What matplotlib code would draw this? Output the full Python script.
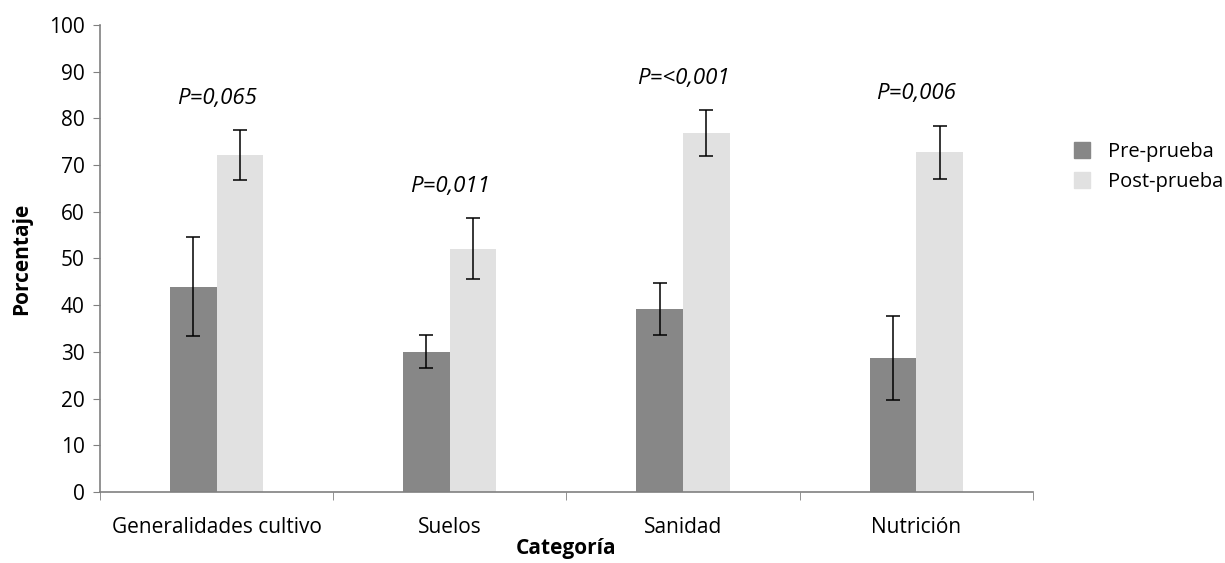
#! /usr/bin/env python3
# Bar chart: pre vs post test percentages per category, with error bars

import numpy as np
import matplotlib
matplotlib.use("Agg")
import matplotlib.pyplot as plt
from matplotlib.patches import Patch

categories = ["Generalidades cultivo", "Suelos", "Sanidad", "Nutrición"]
pre = [43.9, 30.0, 39.2, 28.7]
pre_lo = [33.5, 26.6, 33.7, 19.7]
pre_hi = [54.5, 33.6, 44.8, 37.7]
post = [72.1, 52.0, 76.9, 72.8]
post_lo = [66.8, 45.5, 71.9, 67.1]
post_hi = [77.4, 58.6, 81.8, 78.4]
p_labels = ["P=0,065", "P=0,011", "P=<0,001", "P=0,006"]

plt.rcParams["font.family"] = ["Open Sans", "DejaVu Sans"]
fs = 15

fig = plt.figure(figsize=(12.25, 5.63), dpi=100)
ax = fig.add_axes([0.0816, 0.126, 0.7616, 0.830])

x = np.arange(len(categories))
w = 0.2
pre = np.array(pre)
post = np.array(post)
pre_err = [pre - np.array(pre_lo), np.array(pre_hi) - pre]
post_err = [post - np.array(post_lo), np.array(post_hi) - post]

ek = dict(ecolor="black", elinewidth=1.1, capsize=5, capthick=1.1)
ax.bar(x - w / 2, pre, w, color="#878787", label="Pre-prueba", yerr=pre_err, error_kw=ek)
ax.bar(x + w / 2, post, w, color="#e1e1e1", label="Post-prueba", yerr=post_err, error_kw=ek)

for i, lab in enumerate(p_labels):
    ax.text(x[i], post_hi[i] + 6.8, lab, ha="center", va="center",
            fontsize=fs + 1, style="italic")

ax.set_xlim(-0.5, len(categories) - 0.5)
ax.set_ylim(0, 100)
ax.set_yticks(range(0, 101, 10))
ax.tick_params(axis="y", labelsize=fs, length=5, color="#808080", direction="out", pad=6)
ax.set_xticks(x)
ax.set_xticklabels(categories, fontsize=fs)
ax.tick_params(axis="x", length=0, pad=18)
ax.set_xticks(np.arange(-0.5, len(categories)), minor=True)
ax.tick_params(axis="x", which="minor", length=6, color="#808080", direction="out")

for s in ["top", "right"]:
    ax.spines[s].set_visible(False)
for s in ["left", "bottom"]:
    ax.spines[s].set_color("#808080")
    ax.spines[s].set_linewidth(1.2)

ax.set_ylabel("Porcentaje", fontsize=fs, fontweight="bold", labelpad=12)
ax.set_xlabel("Categoría", fontsize=fs, fontweight="bold", labelpad=0)

handles = [Patch(color="#878787", label="Pre-prueba"),
           Patch(color="#e1e1e1", label="Post-prueba")]
fig.legend(handles=handles, loc="upper left", bbox_to_anchor=(0.862, 0.78),
           frameon=False, fontsize=14.5, handlelength=0.8, handleheight=0.8,
           handletextpad=0.9, labelspacing=0.5)

fig.savefig("out.png", dpi=100)
